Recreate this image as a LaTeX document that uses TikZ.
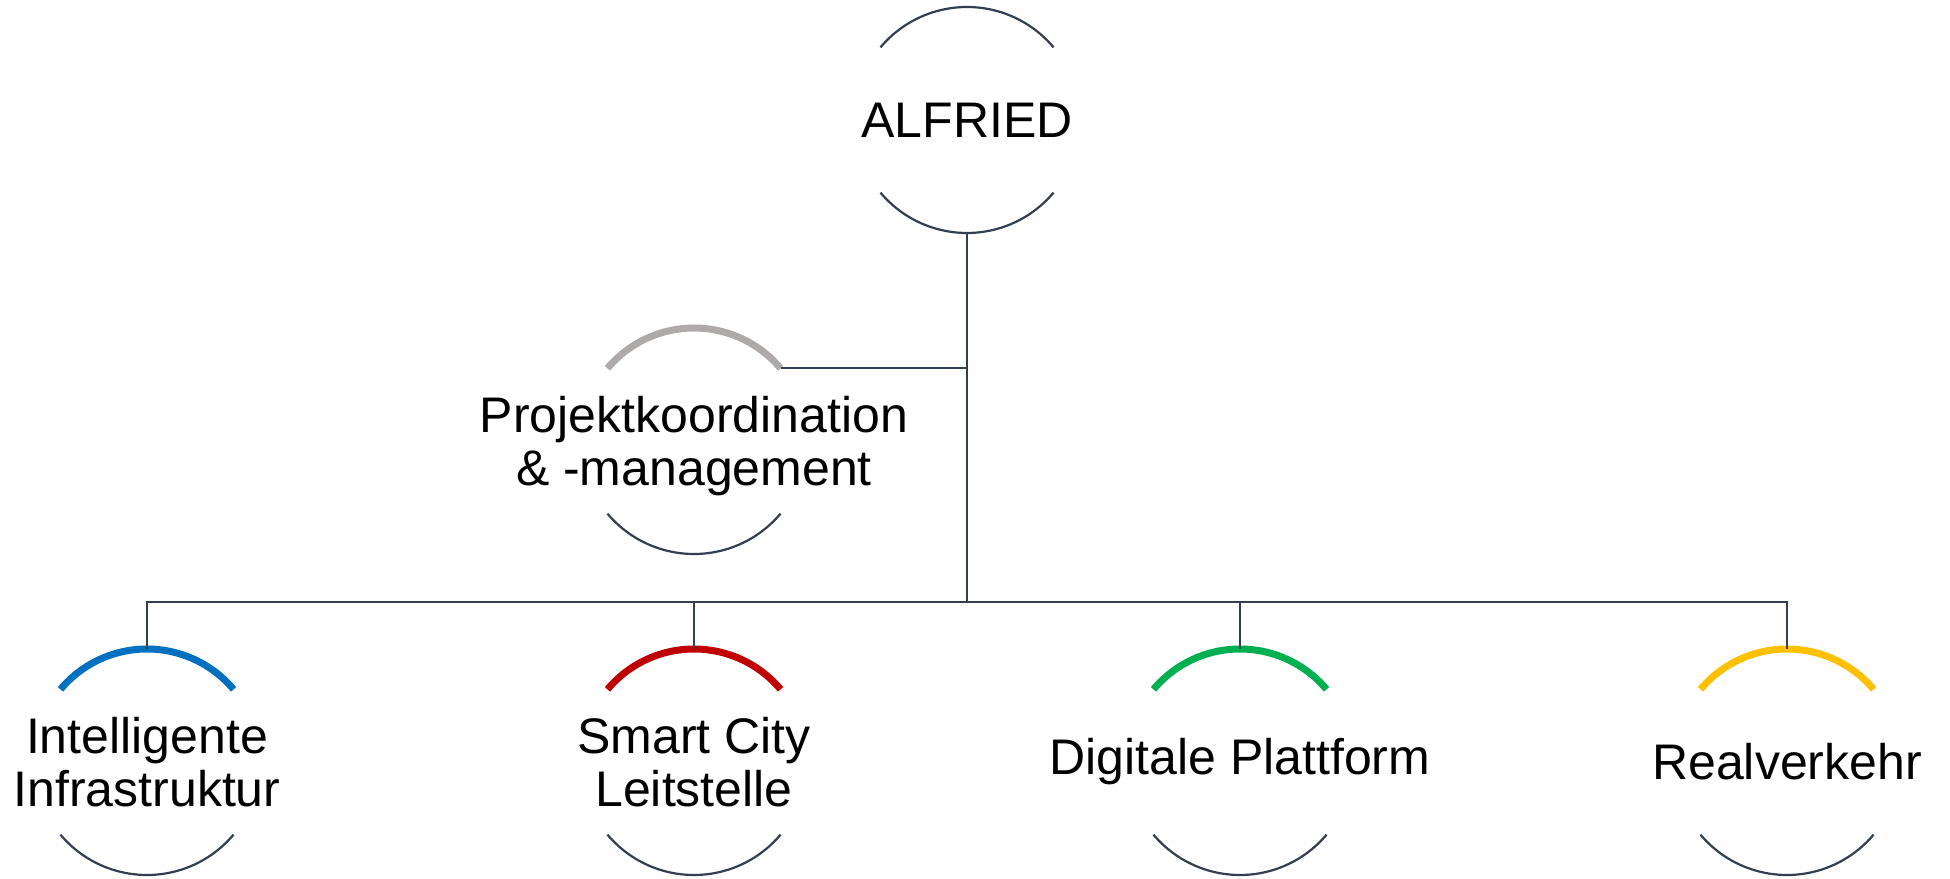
\documentclass[tikz,border=0pt]{standalone}
\usepackage{fontspec}
\setmainfont{Liberation Sans}
\definecolor{lineDark}{HTML}{333F50}
\definecolor{cBlue}{HTML}{0070C0}
\definecolor{cRed}{HTML}{C00000}
\definecolor{cGreen}{HTML}{00B050}
\definecolor{cYellow}{HTML}{FFC000}
\definecolor{cGray}{HTML}{AEAAAA}
\tikzset{
  unit/.style={inner sep=0pt, align=center,
    font=\fontsize{50pt}{53pt}\selectfont},
  thinarc/.style={draw=lineDark, line width=2.2pt},
  thickarc/.style={line width=7pt},
  conn/.style={draw=lineDark, line width=2.2pt}
}
\newcommand{\ringarcs}[2]{%
  \draw[thickarc, draw=#2] ([shift={(40:113pt)}]#1) arc[start angle=40, end angle=140, radius=113pt];
  \draw[thinarc] ([shift={(220:113pt)}]#1) arc[start angle=220, end angle=320, radius=113pt];
}
\begin{document}
\begin{tikzpicture}[x=1pt,y=1pt]
\useasboundingbox (0,0) rectangle (1950,878);
\node[unit] (alf) at (967,758) {ALFRIED};
\coordinate (proj) at (694,437);
\node[unit] (projtxt) at (694,432) {Projektkoordination\\\& -management};
\node[unit] (ii) at (147,116) {Intelligente\\Infrastruktur};
\node[unit] (sc) at (694,116) {Smart City\\Leitstelle};
\node[unit] (dp) at (1240,116) {Digitale Plattform};
\node[unit] (rv) at (1787,116) {Realverkehr};
% arcs
\draw[thinarc] ([shift={(40:113pt)}]alf.center) arc[start angle=40, end angle=140, radius=113pt];
\draw[thinarc] ([shift={(220:113pt)}]alf.center) arc[start angle=220, end angle=320, radius=113pt];
\ringarcs{proj}{cGray}
\ringarcs{ii.center}{cBlue}
\ringarcs{sc.center}{cRed}
\ringarcs{dp.center}{cGreen}
\ringarcs{rv.center}{cYellow}
% connectors
\coordinate (bus) at (967,276);
\coordinate (pjend) at ([shift={(40:113pt)}]proj);
\draw[conn] ([yshift=-113pt]alf.center) -- (bus);
\draw[conn] (pjend) -- (pjend -| alf.center);
\draw[conn] ([yshift=113pt]ii.center) |- (bus);
\draw[conn] ([yshift=113pt]sc.center) |- (bus);
\draw[conn] ([yshift=113pt]dp.center) |- (bus);
\draw[conn] ([yshift=113pt]rv.center) |- (bus);
\end{tikzpicture}
\end{document}
